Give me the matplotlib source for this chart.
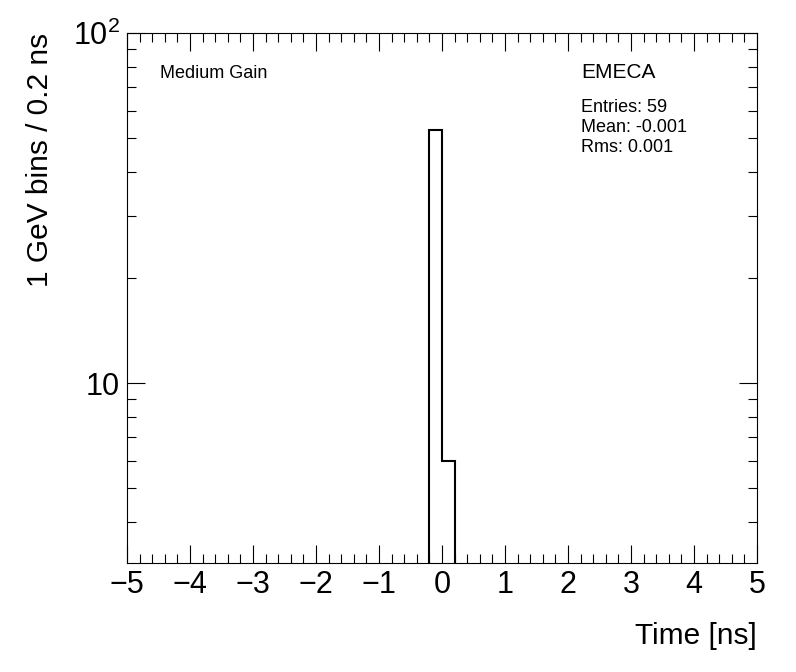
import matplotlib
matplotlib.use("Agg")
import matplotlib.pyplot as plt
from matplotlib.ticker import MultipleLocator, LogLocator, NullFormatter

# histogram contents (only non-empty bins of 0.2 ns)
bin_edges = [-0.2, 0.0, 0.2]
counts = [53, 6]

x_range = (-5, 5)
y_range = (3.06, 100)
y_ticks = [10, 100]
y_tick_labels = ["10", "$10^{2}$"]

gain_label = "Medium Gain"
partition = "EMECA"
stats = ["Entries: 59", "Mean: -0.001", "Rms: 0.001"]

plt.rcParams["font.family"] = ["Liberation Sans", "DejaVu Sans"]
plt.rcParams["mathtext.fontset"] = "custom"
plt.rcParams["mathtext.rm"] = "Liberation Sans"
plt.rcParams["mathtext.it"] = "Liberation Sans"

fig = plt.figure(figsize=(7.96, 6.72), dpi=100)
ax = fig.add_axes([127 / 796, 109 / 672, 630 / 796, 530 / 672])

ax.stairs(counts, bin_edges, baseline=y_range[0], color="black", linewidth=1.5)

ax.set_yscale("log")
ax.set_xlim(*x_range)
ax.set_ylim(*y_range)

ax.xaxis.set_major_locator(MultipleLocator(1))
ax.xaxis.set_minor_locator(MultipleLocator(0.2))
ax.set_yticks(y_ticks)
ax.set_yticklabels(y_tick_labels)
ax.yaxis.set_minor_locator(LogLocator(base=10, subs=range(2, 10)))
ax.yaxis.set_minor_formatter(NullFormatter())

ax.tick_params(which="both", direction="in", top=True, right=True,
               width=0.8, labelsize=22)
ax.tick_params(which="major", length=13, pad=5)
ax.tick_params(which="minor", length=6.5)
for s in ax.spines.values():
    s.set_linewidth(0.8)

ax.set_xlabel("Time [ns]", fontsize=21.5, loc="right", labelpad=16)
ax.set_ylabel("1 GeV bins / 0.2 ns", fontsize=21.5, loc="top", labelpad=14)

# text positions given in pixels from the top-left corner
ax.text(160 / 796, 1 - 73 / 672, gain_label, transform=fig.transFigure,
        fontsize=13, va="center", ha="left")
ax.text(581 / 796, 1 - 73 / 672, partition, transform=fig.transFigure,
        fontsize=15, va="center", ha="left")
for i, line in enumerate(stats):
    ax.text(581 / 796, 1 - (107 + 20 * i) / 672, line,
            transform=fig.transFigure, fontsize=13, va="center", ha="left")

fig.savefig("out.png", dpi=100)
